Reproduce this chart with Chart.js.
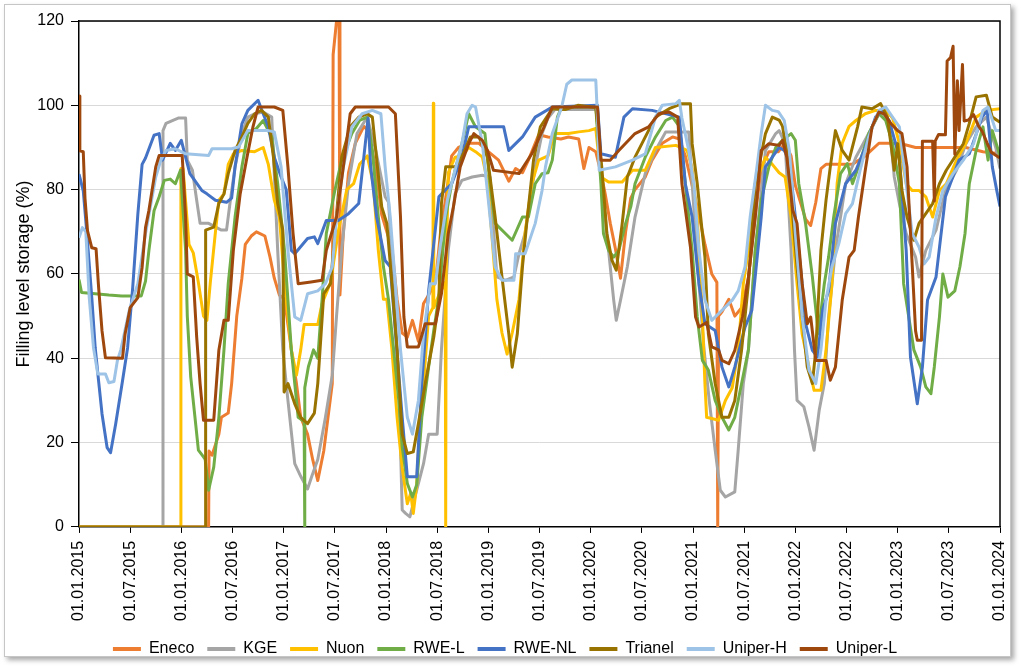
<!DOCTYPE html>
<html>
<head>
<meta charset="utf-8">
<script src="https://cdn.jsdelivr.net/npm/chart.js@4.4.1/dist/chart.umd.min.js"></script>
<style>
    body { margin: 0; background: #fff; }
    #frame {
        position: absolute; left: 4px; top: 4px; width: 1005px; height: 651px;
        border: 1px solid #c6c6c6; background: #fff;
        box-shadow: 3px 3px 5px rgba(0, 0, 0, 0.35);
    }
    #wrap { position: absolute; left: 0; top: 0; width: 1024px; height: 669px; }
</style>
</head>
<body>
<div id="frame"></div>
<div id="wrap"><canvas id="storageChart" width="1024" height="669"></canvas></div>
<script>
// x = months since 01.01.2015, y = filling level in %
const tickLabels = ['01.01.2015', '01.07.2015', '01.01.2016', '01.07.2016', '01.01.2017', '01.07.2017',
    '01.01.2018', '01.07.2018', '01.01.2019', '01.07.2019', '01.01.2020', '01.07.2020', '01.01.2021',
    '01.07.2021', '01.01.2022', '01.07.2022', '01.01.2023', '01.07.2023', '01.01.2024'];

const seriesNames = ['Eneco', 'KGE', 'Nuon', 'RWE-L', 'RWE-NL', 'Trianel', 'Uniper-H', 'Uniper-L'];

const eneco = [[0,0],[15.2,0],[15.25,18],[15.6,17],[16.4,22],[16.7,26],[17.5,27],[17.9,34],[18.5,50],[19.1,59],[19.5,67],[20.2,69],[20.8,70],[21.8,69],[22.4,64],[22.9,59],[23.5,55],[24.1,54],[24.9,42],[25.5,34],[26,26],[26.8,22],[27.4,16],[28,11],[28.7,18],[29.2,26],[29.7,34],[29.8,112],[30.2,120],[30.5,120],[30.6,55],[31,70],[31.6,84],[32.4,91],[33.4,95],[33.9,94],[34.8,85],[35.5,74],[36.1,70],[36.7,66],[37.3,54],[37.9,46],[38.5,45],[39.1,49],[39.8,44],[40.4,53],[41,55],[41.8,58],[42.4,70],[43,78],[43.7,88],[44.5,90],[45.7,91],[46.9,91],[48,89],[49.2,87],[50.4,82],[51.2,85],[52,84],[52.7,87],[53.9,93],[55,92.5],[56.5,92],[57.4,92.5],[58.6,92],[59.2,85],[59.8,90],[60.6,89],[61.2,84],[61.7,79],[62.3,72],[62.9,66],[63.5,59],[64.1,70],[64.7,78],[65.2,80],[66.4,83],[67.2,87],[68.4,91],[69.6,92.5],[70.4,92],[71.1,88],[71.9,81],[72.7,74],[73.4,67],[74.2,60],[74.8,58],[74.9,0],[75,50],[75.4,51],[76.2,54],[76.9,50],[77.7,52],[78.5,59],[79.3,74],[80,85],[80.9,89],[82,89],[82.8,91],[83.5,88],[84,81],[84.6,77],[85.2,73],[85.8,71.5],[86.4,77],[87,85],[87.6,86],[89.1,86],[90.7,86],[92.2,88],[93.8,91],[96.2,91],[98.1,90],[100.1,90],[102.5,90],[104,90],[106,89],[108,88.5]];

const kge = [[0,0],[9.8,0],[9.85,94],[10.2,95.7],[11.7,97],[12.5,97],[12.7,87],[13.3,84.6],[13.8,77.5],[14.2,72],[15.2,72],[16.7,70.4],[17.3,70.4],[17.7,76.7],[18.3,85.4],[19.1,93.3],[19.8,97.2],[20.6,98],[21.6,98.4],[22.6,97.2],[23.3,65.6],[23.9,42],[24.5,30],[25.3,15],[26,12],[26.8,9],[27.3,12],[28,16],[28.9,26],[29.7,36],[30.2,50],[30.8,65.6],[31.6,81.4],[32.6,93.3],[33.8,97.2],[34.8,89.3],[35.9,78.3],[36.3,77],[36.9,57.7],[37.5,34],[37.9,4],[38.3,3.2],[38.8,2.4],[39.6,8.7],[40.4,15],[41,22],[42,22],[42.5,42],[43.3,65.6],[44.1,79],[44.9,82.2],[46.1,83],[47.3,83.4],[48.2,83],[49,59.3],[50,58.5],[51,59.3],[51.6,64.8],[52.3,69.6],[53.5,85.4],[54.3,93.3],[55,97],[55.8,99],[60.8,99],[61.3,81.4],[62.1,65.6],[62.7,53.8],[63,49],[63.5,53.8],[64.3,61.7],[65.2,73.5],[66.4,83.8],[67.6,89.3],[68.8,93.7],[71.5,93.7],[71.9,81.4],[72.7,57.7],[73.3,42],[73.9,30],[74.6,18.2],[75.2,8.7],[75.8,7.1],[76.9,8.3],[77.3,18.2],[77.9,34],[78.5,42],[79.3,65.6],[80.5,89.3],[81.7,93.3],[82.1,94],[82.8,91],[83.5,65.6],[83.9,42],[84.2,30],[85,28.5],[85.6,23.7],[86.2,18.2],[86.8,27.7],[87.4,34],[87.9,49.8],[88.7,65.6],[89.9,81.4],[91.1,87.7],[92.6,93.3],[94,98.8],[95,96],[95.6,83],[96.2,76.7],[97,69.6],[98.1,64],[98.5,59.3],[99.3,65.6],[100.5,70.4],[101.6,79.8],[102.9,84.6],[104,90.9],[105.2,94.9],[106.4,97.2],[107.5,90],[108,85]];

const nuon = [[0,0],[11.9,0],[11.95,85],[12.2,85],[12.9,67],[13.4,65],[14,58],[14.6,50],[15,49],[15.4,58],[16,70],[16.4,77.5],[17,79],[17.5,86],[18.1,88.5],[19.1,89.3],[20.6,89],[21.6,90],[22.2,86],[22.9,77.5],[23.5,73.5],[24.1,58],[24.9,42],[25.5,36],[26,42],[26.4,48],[27,48],[28,48],[28.5,53],[29.5,58],[30.4,70],[31.4,80],[32.2,81.4],[32.9,86],[33.8,88],[34.5,81.4],[35.1,65.6],[35.7,54],[36.1,54],[36.7,42],[37.3,26],[37.9,14],[38.5,5.5],[38.9,8],[39.2,3.2],[39.6,10],[40,26],[40.4,34],[41,50],[41.5,52],[41.55,100.5],[41.6,52],[42.2,55],[42.95,58],[43,0],[43.05,60],[43.3,84],[44.1,87.7],[44.9,88],[45.7,90],[46.5,89],[47.3,87.7],[47.9,82],[48.4,69.6],[49,54],[49.6,46],[50.2,41],[50.8,46],[51.6,54],[52.3,69.6],[53.1,81.4],[53.9,87],[55,88],[55.8,93.3],[57.4,93.3],[58.6,93.7],[59.8,94],[60.6,94.5],[61.2,83],[62.1,81.8],[63.7,81.8],[64.9,84.6],[66.4,84.6],[67.6,90],[70,90.5],[71.3,89.3],[71.9,85],[72.5,73.5],[73.1,50],[73.4,34],[73.6,26],[75,25.3],[75.8,30],[76.6,33],[77.3,42],[77.9,57.7],[78.5,65.6],[79.3,81.4],[80.5,87.7],[81.3,86],[82.1,84],[82.8,83],[83.5,73.5],[84.2,57.7],[84.8,45.8],[85.6,38],[86.2,32.4],[87,32.4],[87.6,42],[88.3,57.7],[88.9,81.4],[89.5,91],[90.3,95],[91.1,96.4],[92.2,98],[93.4,98.8],[94.6,98.8],[95.4,97],[96.2,91],[97,81.4],[97.7,79.8],[98.5,79.8],[99.3,78.3],[100.1,73.5],[100.9,79.8],[101.7,81.4],[102.9,87],[104,91],[105.2,97.2],[106.4,98.8],[108,99.2]];

const rweL = [[0,58.7],[0.3,55.6],[3.5,55],[5,54.8],[7.3,54.8],[7.8,58.3],[8.2,65.6],[8.8,75],[9.4,78.3],[10,82.2],[10.7,82.5],[11.3,81.4],[11.9,84.6],[12.5,65.6],[12.7,50],[13.1,35.6],[13.6,26],[14,18.2],[14.6,16.6],[14.8,16],[15.2,8.7],[15.8,14.2],[16.4,26],[17,42],[17.5,57.7],[18.3,73.5],[19.1,85.4],[19.8,93.3],[20.8,94.5],[21.6,96.4],[22.6,92.5],[23.3,81.4],[24.1,65.6],[24.9,42],[25.7,26],[26.4,25],[26.45,0],[26.5,33],[26.9,38],[27.5,42],[28,40],[28.5,53.8],[29,69.6],[30,79.8],[30.8,87],[32,93.3],[32.9,96.4],[33.8,97.2],[34.4,89.3],[35.1,73.5],[35.7,61.7],[36.3,53.8],[36.9,42],[37.5,30],[37.9,19],[38.5,10.3],[39.1,7.1],[39.6,10],[40.2,26],[41,38],[41.6,46.6],[42.2,54.5],[43,73.5],[43.7,81.4],[44.9,90.9],[45.7,98],[46.5,94.9],[47.6,93.3],[48.2,81.4],[48.8,72],[50,69.6],[50.8,68],[52,73.5],[52.7,73.5],[53.5,81.4],[54.3,83.8],[55,84],[55.5,87],[56.1,97.2],[56.6,99.6],[60.6,99.6],[61.2,81.4],[61.5,69.6],[62.1,65.6],[62.7,64],[63.3,65.6],[64.1,72],[64.7,75.9],[65.2,81.4],[66.4,87.7],[67.6,92.5],[68.8,96.4],[69.6,97.2],[70.4,95],[71.1,81.4],[71.9,65.6],[72.5,49.8],[73.1,39.5],[73.8,37.2],[74.6,30],[75.4,26],[76.2,23],[76.9,26],[77.7,34],[78.5,42],[79.3,65.6],[80,77.5],[80.9,85.4],[81.7,90],[82.5,91.7],[83.5,93.3],[84,91.7],[84.4,81.4],[85.2,72],[86,59.3],[86.7,45.8],[87.4,57.7],[87.9,64],[88.5,73.5],[89.3,83.8],[90.1,86.2],[90.7,81.4],[91.4,85.4],[92.6,93.3],[93.8,98],[94.6,96.4],[95.4,90.9],[96.2,81.4],[96.7,57.7],[97.3,49.8],[97.9,42],[98.7,37.9],[99.3,33.2],[99.9,31.6],[100.3,38],[100.9,49.8],[101.3,60],[101.9,54.5],[102.7,56],[103.3,61.7],[103.9,69.6],[104.4,81.4],[105.2,89.3],[106,94.9],[106.6,87],[107.1,94],[108,88]];

const rweNL = [[0,83.7],[0.5,79.7],[0.9,70.2],[1.5,54.4],[1.9,42.5],[2.3,34.6],[2.7,26.8],[3.3,18.8],[3.7,17.6],[4.3,24.4],[5.1,34.6],[5.7,42.5],[6.3,56.8],[6.9,74.2],[7.4,86],[7.8,87.5],[8.8,92.9],[9.4,93.3],[9.8,87],[10.7,91],[11.3,89.3],[12,91.7],[12.5,87.7],[13,83.8],[14.4,79.8],[15,79],[16,77.5],[17.3,77],[17.9,78],[18.3,85.4],[19.1,95.6],[19.8,98.8],[21,101.2],[21.6,98],[22.2,94.9],[22.9,87.7],[23.7,83],[24.3,80],[24.9,65.6],[25.3,64.8],[26.8,68.4],[27.6,68.8],[28,67.2],[29,72.7],[30.4,72.7],[31.6,74.3],[32.8,76.7],[33.4,87.7],[33.9,97],[34.2,85.4],[34.9,73.5],[35.9,63.2],[36.5,61.7],[37.9,26],[38.5,11.9],[39.6,11.9],[40.2,34],[41,56],[42.2,78.3],[43,80],[43.7,81.4],[44.9,87.7],[45.7,94.9],[49.8,94.9],[50.4,89.3],[52,92.5],[53.5,97.2],[55.5,99.6],[60.8,100],[61.2,88.5],[62.9,87.7],[63.9,97.2],[64.9,99.2],[67.2,98.8],[70.4,97.2],[71.1,81.4],[71.9,73.5],[72.7,57.7],[73.4,48.2],[74.6,46.6],[75.4,37.9],[76.2,33.2],[76.9,37.9],[78.1,47.4],[78.9,51.4],[80,73.5],[80.5,85.4],[82.1,90],[82.7,89.3],[83.3,87],[84,73.5],[84.8,57.7],[85.2,48.2],[86,41.9],[86.6,40.3],[87.2,51.4],[87.9,56],[88.7,72],[89.9,81.4],[91.1,84.6],[92.2,90],[93.4,97.2],[94.2,98.8],[95,96.4],[96.2,87.7],[97,65.6],[97.5,40.3],[98.3,29.2],[98.9,37.9],[99.5,53.8],[100.5,59.3],[101.6,78.3],[103.2,87],[104.4,88.5],[105.9,97.2],[106.5,98.8],[107.1,85.4],[107.6,80],[108,76]];

const trianel = [[0,0],[14.8,0],[14.85,70.4],[15.8,71.1],[16.4,76.7],[17,79],[17.5,83.8],[18.3,89.3],[19.1,92.5],[19.8,95.7],[20.6,98],[21.4,98.8],[22.2,97.2],[22.8,87.7],[23.3,76.7],[23.9,70.4],[24,45],[24.05,32],[24.5,34],[25.3,29.2],[26,26],[26.8,24.5],[27.6,27],[28,34],[28.7,55.3],[29.5,57.7],[30,69.6],[30.8,87.7],[31.8,94.9],[32.8,97.2],[33.8,98],[34.4,97.2],[35,85.4],[35.5,75.9],[36.1,72],[36.7,57.7],[37.3,42],[37.9,22],[38.5,17.4],[39.2,17.8],[39.8,24.5],[40.6,34],[41.6,45],[42.2,53.8],[42.5,76.7],[43,85.4],[44.1,85.4],[44.9,87.7],[45.9,92.5],[46.9,92.5],[47.9,87.7],[48.8,73.5],[49.6,59.3],[50.4,45.8],[50.8,37.9],[51.4,45.8],[52,61.7],[52.5,72],[53.3,87],[54.1,94.9],[55.5,99.2],[57,99],[58.5,100],[60.6,99.5],[61.3,85.4],[61.9,69.6],[62.5,63.2],[63,60.9],[63.7,72],[64.3,83],[65.2,87.7],[66.2,91.7],[67.6,97.2],[69.2,99.2],[70.7,100.4],[71.7,100.4],[71.9,90.9],[72.5,81.4],[73.1,69.6],[73.4,64],[73.8,45.8],[74.6,34],[75.4,26],[76.2,26],[76.9,30],[77.7,42],[78.5,57.7],[79.3,81.4],[80.5,93.3],[81.3,97.2],[82.1,96.5],[82.5,95],[83.3,85.4],[83.7,73.5],[84.2,61.7],[84.8,49.8],[85.4,37.9],[86,34],[86.4,42],[87,65.6],[87.6,77.5],[88.1,85.4],[88.7,94],[89.5,89.3],[90.3,87],[91.3,94.9],[91.8,99.6],[93,99.2],[94,100.4],[94.8,97.2],[95.6,84.6],[96,90.9],[96.5,79.8],[97.1,73.5],[97.9,68],[98.5,72],[99.3,74.3],[100.1,76.7],[100.9,81.4],[101.7,84.6],[102.7,87.7],[103.7,90.9],[104.4,95.7],[105.2,102],[106.4,102.4],[107.1,97.2],[108,96]];

const uniperH = [[0,68.6],[0.4,71],[0.8,70],[1.2,54.4],[1.7,42.5],[2.2,36.3],[3.1,36.3],[3.5,34.2],[4.1,34.5],[4.5,39.4],[4.9,42],[5.9,51.4],[6.9,57.7],[7.8,69.6],[9,83],[9.6,87],[10.2,89.3],[11.3,89.7],[12.5,88.5],[15.2,88.1],[15.6,89.7],[17.9,89.7],[18.7,90.1],[19.8,94],[22.2,94],[22.9,93.7],[23.7,85.4],[24.5,65.6],[25.3,49.8],[26,49],[26.8,55.3],[28,56],[28.9,57.7],[29.7,61.7],[30.2,73.5],[31,85.4],[32,94.9],[33.2,98],[34.4,98.8],[35.4,98],[35.9,85.4],[36.5,73.5],[37.1,57.7],[37.7,42],[38.5,26],[39.1,22],[39.8,30],[40.4,45.8],[41.2,57.7],[41.8,57.7],[42.4,67.2],[43.2,77.5],[44.1,84.6],[44.9,90.9],[45.5,98],[46.1,100],[46.5,99.6],[47.3,90.9],[48,77.5],[48.8,61.7],[49.6,58.5],[51,58.5],[51.2,64.8],[52.3,64.8],[53.5,72],[54.3,79.8],[54.7,85.4],[55.5,93.3],[56.6,99.6],[57.2,105],[57.8,106],[60.6,106],[60.8,97.2],[61,84.6],[62.9,85.4],[64.9,87],[66.4,88.5],[67.6,97.2],[68.4,100],[70,100.4],[70.4,101.2],[70.7,97],[71.5,89.3],[72.1,81.4],[72.7,65.6],[73.4,53.8],[74.2,49],[75.4,51.4],[76.6,53.8],[77.3,56],[78.1,61.7],[78.7,73.5],[79.5,85.4],[80,93.3],[80.5,100],[81.3,98.8],[82,98.5],[82.7,96.4],[83.3,89.3],[84,69.6],[84.8,49.8],[85.6,37.2],[86.4,34],[87,42],[87.6,53.8],[88.3,61.7],[89.1,67.2],[89.9,74.3],[90.7,76.7],[91.6,84.6],[92.6,92.5],[93.8,98.8],[94.6,99.6],[95.4,97.2],[96.2,94.9],[97,81.4],[97.7,69.6],[98.5,66.4],[99.1,62.4],[99.7,64],[100.5,73.5],[101.3,79.8],[102.5,83.8],[103.7,87],[104.9,90.9],[106,98.8],[106.6,99.6],[107.5,94],[108,94]];

const uniperL = [[0,102.2],[0.1,89.2],[0.5,89],[0.7,78],[1,70.2],[1.5,66.2],[2,66],[2.3,56.8],[2.7,46.5],[3.1,40.1],[5.1,40],[5.4,45.7],[6,52],[6.9,54.4],[7.4,61.5],[7.8,71],[8.2,75.1],[9,85.4],[9.4,88.1],[12.1,88.1],[12.5,73.5],[12.7,60],[13.4,59.3],[13.8,45],[14.2,34],[14.6,25.3],[15.8,25.3],[16.4,41.9],[17,49],[17.5,49],[18.1,65.6],[18.9,79],[19.7,87.7],[20.4,94.9],[21,99.6],[22.9,99.6],[23.9,98.8],[24.5,85.4],[25.1,69.6],[25.7,57.7],[27.2,58.1],[28.5,58.5],[29,65.6],[30.2,73.5],[31,85.4],[31.8,98],[32.4,99.6],[36.3,99.6],[37.1,98],[37.7,73.5],[38.1,49.8],[38.5,42.7],[39.8,42.7],[40.6,48.2],[41.8,48.2],[42.5,55.3],[43.3,69.6],[43.9,75.9],[44.7,85.4],[45.7,90.9],[46.3,93.3],[47.3,91.7],[47.9,89.3],[48.6,84.6],[51.6,83.8],[53.1,88.5],[54.5,94.7],[55.5,99.6],[60.8,99.6],[61.2,87],[62.3,87],[63.3,89.3],[65.2,93.3],[66.8,94.9],[68,98],[69.2,98.4],[70.2,97.2],[70.7,81.4],[71.7,66.4],[72.3,49.8],[72.7,47.4],[73.6,48.5],[74.2,42.7],[75,42],[75.4,39.5],[76.2,38.7],[76.9,41.9],[77.8,49.8],[78.5,59.3],[79.3,73.5],[80,89.3],[80.9,90.9],[82.1,90.5],[82.5,91.7],[83,87.7],[83.7,75.1],[84.2,72],[84.8,57.7],[85.4,48.2],[85.8,49.8],[86.4,39.5],[87.6,39.5],[88.1,34.8],[88.7,37.9],[89.5,53.8],[90.3,64],[90.9,65.6],[91.4,73.5],[92.2,84.6],[93,94.9],[93.8,98.4],[94.4,98],[95.2,95.7],[96,94],[96.5,93.3],[97.1,85.4],[97.7,62.3],[98.1,46.5],[98.3,44.3],[98.8,44.3],[98.9,91.5],[100.1,91.5],[100.3,77.3],[100.4,91.5],[100.8,93.1],[101.6,93],[101.8,110.5],[102.2,111.3],[102.5,114],[102.7,88.4],[103,105.8],[103.2,94],[103.6,109.7],[103.8,96.3],[104.3,96.5],[104.9,97.8],[105.5,95],[105.9,93.9],[106.5,91],[107,88.8],[108,87.5]];

const seriesData = [eneco, kge, nuon, rweL, rweNL, trianel, uniperH, uniperL];
const seriesColors = ['#ED7D31', '#A5A5A5', '#FFC000', '#70AD47', '#4472C4', '#997300', '#9DC3E6', '#9E480E'];

const FONT = 'Liberation Sans, Arial, sans-serif';

// black frame around the plot area (top and right side too)
const plotBorder = {
    id: 'plotBorder',
    afterDatasetsDraw: function(chart) {
        const a = chart.chartArea;
        const ctx = chart.ctx;
        ctx.save();
        ctx.strokeStyle = '#000';
        ctx.lineWidth = 1.5;
        ctx.beginPath();
        ctx.moveTo(a.left, a.top);
        ctx.lineTo(a.right, a.top);
        ctx.lineTo(a.right, a.bottom);
        ctx.stroke();
        ctx.restore();
    }
};

const datasets = seriesNames.map(function(name, i) {
    return {
        label: name,
        data: seriesData[i].map(function(p) { return {x: p[0], y: p[1]}; }),
        borderColor: seriesColors[i],
        backgroundColor: seriesColors[i],
        borderWidth: 3,
        borderJoinStyle: 'round',
        pointRadius: 0,
        tension: 0,
        order: seriesNames.length - i   // later series on top, like the original
    };
});

new Chart(document.getElementById('storageChart'), {
    type: 'line',
    data: { datasets: datasets },
    options: {
        responsive: false,
        animation: false,
        layout: { padding: { left: 10, right: 24, top: 21, bottom: 2 } },
        plugins: {
            tooltip: { enabled: false },
            legend: {
                position: 'bottom',
                labels: {
                    font: { family: FONT, size: 16 },
                    color: '#000',
                    usePointStyle: true,
                    pointStyle: 'line',
                    pointStyleWidth: 28,
                    padding: 13,
                    sort: function(a, b) { return a.datasetIndex - b.datasetIndex; },
                    generateLabels: function(chart) {
                        const items = Chart.defaults.plugins.legend.labels.generateLabels(chart);
                        items.forEach(function(it) { it.lineWidth = 4; });
                        return items;
                    }
                }
            }
        },
        scales: {
            x: {
                type: 'linear',
                min: 0,
                max: 108,
                afterFit: function(scale) {
                    scale.height -= 1;
                    scale.paddingRight = 0;
                },
                ticks: {
                    stepSize: 6,
                    autoSkip: false,
                    maxRotation: 90,
                    minRotation: 90,
                    padding: 8,
                    color: '#000',
                    font: { family: FONT, size: 16 },
                    callback: function(value) { return tickLabels[Math.round(value / 6)]; }
                },
                grid: { drawOnChartArea: false, drawTicks: true, tickLength: 6, tickColor: '#000' },
                border: { display: true, color: '#000', width: 1.5 }
            },
            y: {
                min: 0,
                max: 120,
                afterFit: function(scale) { scale.width = 69; },
                ticks: {
                    stepSize: 20,
                    padding: 7,
                    color: '#000',
                    font: { family: FONT, size: 16 }
                },
                grid: { color: '#d9d9d9', lineWidth: 1, tickLength: 8, tickColor: '#000' },
                border: { display: true, color: '#000', width: 1.5 },
                title: {
                    display: true,
                    text: 'Filling level storage (%)',
                    color: '#000',
                    font: { family: FONT, size: 18 },
                    padding: { top: 3, bottom: 4 }
                }
            }
        }
    },
    plugins: [plotBorder]
});
</script>
</body>
</html>
